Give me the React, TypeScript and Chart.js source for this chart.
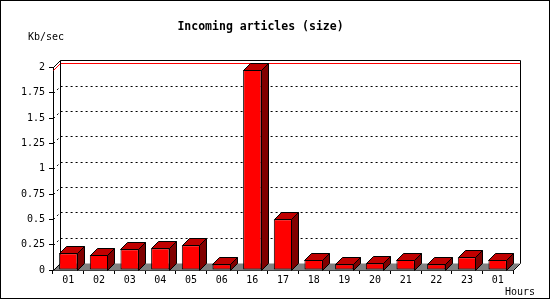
import React, { useEffect, useRef } from "react";
import { Chart, registerables } from "chart.js";

Chart.register(...registerables);

const hours: string[] = ["01", "02", "03", "04", "05", "06", "16", "17", "18", "19", "20", "21", "22", "23", "01"];
const kbPerSec: number[] = [0.165, 0.148, 0.204, 0.214, 0.245, 0.056, 1.974, 0.5, 0.099, 0.056, 0.066, 0.099, 0.056, 0.125, 0.099];
const yTickValues: number[] = [0, 0.25, 0.5, 0.75, 1, 1.25, 1.5, 1.75, 2];
const titleText = "Incoming articles (size)";
const yUnitText = "Kb/sec";
const xUnitText = "Hours";

const DEPTH = 7;
const MONO = '"DejaVu Sans Mono", "Liberation Mono", monospace';

const px = (v: number) => Math.round(v) + 0.5;

const threeD = {
  id: "threeD",
  beforeDatasetsDraw(chart: any) {
    const { ctx, chartArea } = chart;
    const y = chart.scales.y;
    const L = Math.round(chartArea.left);
    const R = Math.round(chartArea.right);
    const B = Math.round(chartArea.bottom);
    const T = Math.round(y.getPixelForValue(2));
    ctx.save();
    ctx.lineWidth = 1;
    // floor
    ctx.fillStyle = "#808080";
    ctx.beginPath();
    ctx.moveTo(L, B + 0.5);
    ctx.lineTo(R, B + 0.5);
    ctx.lineTo(R + DEPTH, B - DEPTH + 0.5);
    ctx.lineTo(L + DEPTH, B - DEPTH + 0.5);
    ctx.closePath();
    ctx.fill();
    ctx.strokeStyle = "#000";
    ctx.beginPath();
    ctx.moveTo(px(L), px(B));
    ctx.lineTo(px(L + DEPTH), px(B - DEPTH));
    ctx.moveTo(px(R), px(B));
    ctx.lineTo(px(R + DEPTH), px(B - DEPTH));
    ctx.stroke();
    // gridlines on back wall
    ctx.setLineDash([2, 3]);
    for (const v of yTickValues) {
      if (v === 0 || v === 2) continue;
      const py = Math.round(y.getPixelForValue(v));
      ctx.beginPath();
      ctx.moveTo(px(L), px(py));
      ctx.lineTo(px(L + DEPTH), px(py - DEPTH));
      ctx.lineTo(px(R + DEPTH), px(py - DEPTH));
      ctx.stroke();
    }
    ctx.setLineDash([]);
    // max line
    const maxV = Math.max(...kbPerSec);
    const my = Math.round(y.getPixelForValue(maxV));
    ctx.strokeStyle = "#ff0000";
    ctx.beginPath();
    ctx.moveTo(px(L), px(my));
    ctx.lineTo(px(L + DEPTH), px(my - DEPTH));
    ctx.lineTo(px(R + DEPTH), px(my - DEPTH));
    ctx.stroke();
    // back wall frame
    ctx.strokeStyle = "#000";
    ctx.beginPath();
    ctx.moveTo(px(L), px(T));
    ctx.lineTo(px(L + DEPTH), px(T - DEPTH));
    ctx.lineTo(px(R + DEPTH), px(T - DEPTH));
    ctx.lineTo(px(R + DEPTH), px(B - DEPTH));
    ctx.moveTo(px(L + DEPTH), px(T - DEPTH));
    ctx.lineTo(px(L + DEPTH), px(B - DEPTH));
    ctx.stroke();
    ctx.restore();
  },
  afterDatasetsDraw(chart: any) {
    const { ctx } = chart;
    const meta = chart.getDatasetMeta(0);
    ctx.save();
    ctx.lineWidth = 1;
    ctx.strokeStyle = "#000";
    for (const el of meta.data) {
      const { x, y, base, width } = el.getProps(["x", "y", "base", "width"], true);
      const l = Math.round(x - width / 2);
      const r = Math.round(x + width / 2) - 1;
      const t = Math.round(y);
      const b = Math.round(base);
      // top face
      ctx.fillStyle = "#c00000";
      ctx.beginPath();
      ctx.moveTo(px(l), px(t));
      ctx.lineTo(px(r), px(t));
      ctx.lineTo(px(r + DEPTH), px(t - DEPTH));
      ctx.lineTo(px(l + DEPTH), px(t - DEPTH));
      ctx.closePath();
      ctx.fill();
      ctx.stroke();
      // side face
      ctx.fillStyle = "#800000";
      ctx.beginPath();
      ctx.moveTo(px(r), px(t));
      ctx.lineTo(px(r + DEPTH), px(t - DEPTH));
      ctx.lineTo(px(r + DEPTH), px(b - DEPTH));
      ctx.lineTo(px(r), px(b));
      ctx.closePath();
      ctx.fill();
      ctx.stroke();
    }
    ctx.restore();
  },
  afterDraw(chart: any) {
    const { ctx } = chart;
    ctx.save();
    ctx.fillStyle = "#000";
    ctx.textBaseline = "middle";
    ctx.font = `bold 11.5px ${MONO}`;
    ctx.textAlign = "center";
    ctx.fillText(titleText, 260.5, 27);
    ctx.font = `10px ${MONO}`;
    ctx.textAlign = "left";
    ctx.fillText(yUnitText, 28, 37);
    ctx.fillText(xUnitText, 505, 292);
    ctx.strokeStyle = "#000";
    ctx.lineWidth = 1;
    ctx.strokeRect(0.5, 0.5, 549, 298);
    ctx.restore();
  },
};

export default function App() {
  const ref = useRef<HTMLCanvasElement | null>(null);
  useEffect(() => {
    if (!ref.current) return;
    const chart = new Chart(ref.current, {
      type: "bar",
      data: {
        labels: hours,
        datasets: [
          {
            data: kbPerSec,
            backgroundColor: "#ff0000",
            borderColor: "#000000",
            borderWidth: 1,
            borderSkipped: false,
            categoryPercentage: 1,
            barPercentage: 0.6,
          },
        ],
      },
      options: {
        responsive: false,
        animation: false,
        devicePixelRatio: 1,
        layout: { padding: { left: 0, right: 37, top: 67.4, bottom: 14 } },
        plugins: { legend: { display: false }, title: { display: false }, tooltip: { enabled: false } },
        scales: {
          x: {
            type: "category",
            offset: true,
            grid: { offset: true, drawOnChartArea: false, tickLength: 4, color: "#000" },
            border: { display: true, color: "#000" },
            ticks: { color: "#000", font: { family: MONO, size: 10 }, padding: 0, maxRotation: 0, autoSkip: false },
            afterFit: (s: any) => { s.height = 16; },
          },
          y: {
            min: 0,
            max: 2,
            afterBuildTicks: (s: any) => { s.ticks = yTickValues.map((v) => ({ value: v })); },
            grid: { drawOnChartArea: false, tickLength: 4, color: "#000" },
            border: { display: true, color: "#000" },
            ticks: { color: "#000", font: { family: MONO, size: 10 }, padding: 4, callback: (v: any) => String(v) },
            afterFit: (s: any) => { s.width = 53; },
          },
        },
      },
      plugins: [threeD],
    });
    return () => chart.destroy();
  }, []);
  return (
    <div style={{ position: "absolute", left: 0, top: 0, width: 550, height: 300, background: "#fff" }}>
      <canvas ref={ref} width={550} height={300} />
    </div>
  );
}
